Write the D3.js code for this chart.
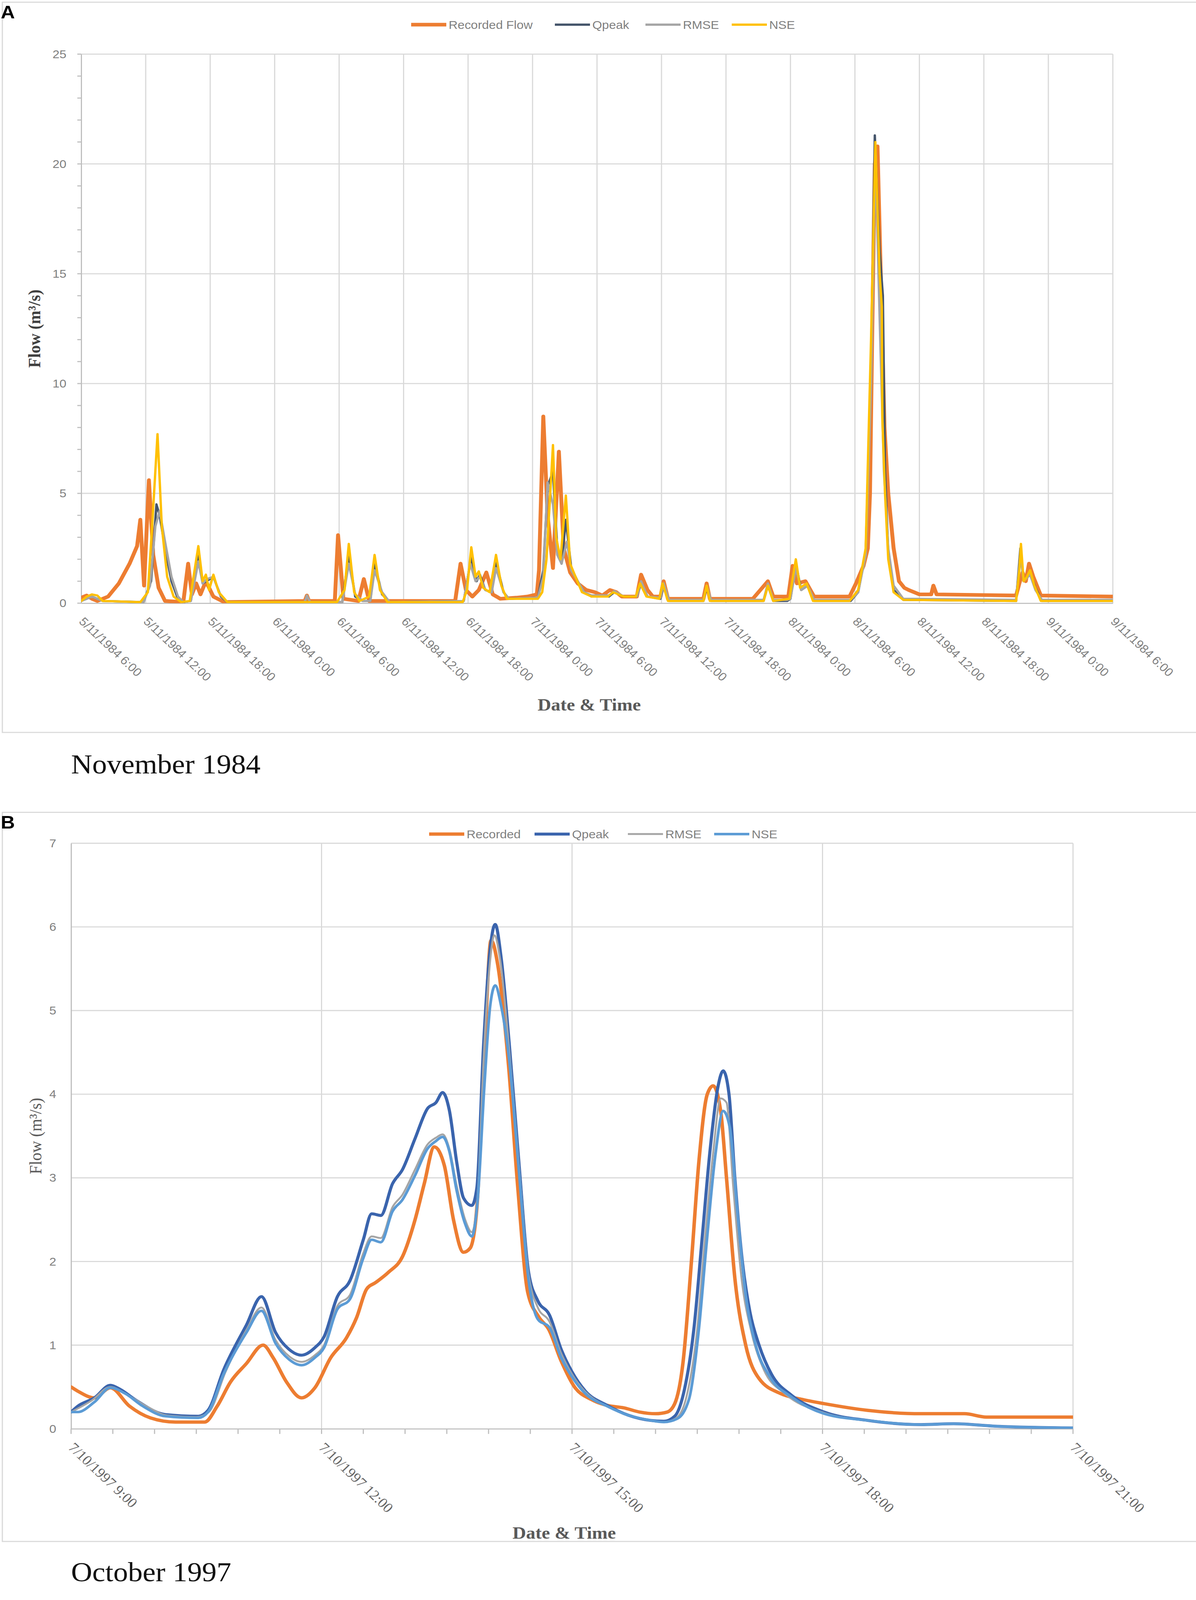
<!DOCTYPE html>
<html>
<head>
<meta charset="utf-8">
<script src="https://cdn.jsdelivr.net/npm/d3@7"></script>
<style>
  html, body { margin: 0; padding: 0; background: #fff; overflow: hidden; }
  svg { display: block; }
  text { font-family: 'Liberation Sans', Arial, sans-serif; }
</style>
</head>
<body>
<div id="canvas"></div>
<script>
/*
 * Data: [hours after the first tick, flow m3/s]
 *
 */
const startA = new Date(1984, 10, 5, 6, 0);   // 5/11/1984 6:00
const startB = new Date(1997, 9, 7, 9, 0);    // 7/10/1997 9:00

const legendA = ['Recorded Flow', 'Qpeak', 'RMSE', 'NSE'];
const legendB = ['Recorded', 'Qpeak', 'RMSE', 'NSE'];

const yTicksA = [0, 5, 10, 15, 20, 25];
const yTicksB = [0, 1, 2, 3, 4, 5, 6, 7];

const recordedA = [[0,0.25],[0.5,0.35],[1,0.2],[1.5,0.1],[2.5,0.3],[3.5,0.9],[4.5,1.8],[5.2,2.6],[5.5,3.8],[5.85,0.8],
  [6.3,5.6],[6.7,2.2],[7.2,0.7],[7.8,0.1],[9.5,0.05],[9.95,1.8],[10.3,0.4],[10.7,0.9],[11.1,0.4],[11.6,1.0],[12.3,0.3],
  [13.3,0.05],[20.8,0.1],[21,0.35],[21.2,0.1],[23.6,0.1],[23.9,3.1],[24.4,0.2],[25.8,0.1],[26.3,1.1],[26.8,0.1],
  [34.8,0.1],[35.3,1.8],[35.8,0.6],[36.4,0.3],[37.0,0.6],[37.7,1.4],[38.3,0.4],[39,0.2],[40.5,0.25],[41.5,0.3],
  [42.4,0.4],[42.6,1.5],[43.0,8.5],[43.4,4.0],[43.9,1.6],[44.45,6.9],[44.9,2.5],[45.5,1.4],[46.2,0.9],[47,0.6],
  [47.8,0.5],[48.5,0.35],[49.2,0.6],[49.8,0.5],[50.3,0.3],[51.7,0.3],[52.1,1.3],[52.7,0.6],[53.2,0.3],[53.9,0.3],
  [54.2,1.0],[54.6,0.2],[57.9,0.2],[58.2,0.9],[58.5,0.2],[62.5,0.2],[63.2,0.6],[63.9,1.0],[64.4,0.3],[65.8,0.3],
  [66.2,1.7],[66.6,0.9],[67.4,1.0],[68.2,0.3],[71.5,0.3],[72.1,0.9],[72.8,1.7],[73.2,2.5],[73.4,5],[73.6,12],
  [73.85,20],[74.1,20.8],[74.4,15],[74.75,8],[75.1,5],[75.6,2.5],[76.1,1.0],[76.6,0.7],[77,0.6],[78,0.4],[79.1,0.4],
  [79.3,0.8],[79.6,0.4],[87,0.35],[87.3,0.9],[87.6,1.4],[87.9,1.0],[88.2,1.8],[88.6,1.2],[89.3,0.35],[96,0.3]];

const qpeakA = [[0,0.1],[1,0.3],[2,0.1],[5.8,0.05],[6.5,1.0],[7.0,4.5],[7.3,4.0],[7.8,2.5],[8.4,1.0],[9.0,0.2],
  [9.5,0.05],[10.2,0.1],[10.9,2.2],[11.3,0.9],[12.3,1.2],[13,0.3],[13.6,0.05],[24.3,0.05],[24.9,2.2],[25.5,0.3],
  [26.2,0.1],[26.9,0.1],[27.3,1.8],[28,0.4],[28.7,0.05],[35.6,0.1],[36.3,2.1],[36.8,1.0],[37.1,1.3],[37.6,0.6],
  [38.2,0.5],[38.6,1.9],[39.3,0.5],[39.8,0.2],[42.5,0.25],[43.0,1.5],[43.4,5.3],[43.9,6.0],[44.3,2.5],[44.7,1.8],
  [45.1,3.8],[45.6,1.6],[46.2,1.0],[46.8,0.5],[47.5,0.3],[49.1,0.3],[49.6,0.5],[50.5,0.3],[51.7,0.3],[52.1,0.9],
  [52.7,0.3],[53.9,0.2],[54.2,0.8],[54.7,0.1],[57.9,0.1],[58.2,0.7],[58.6,0.1],[63.5,0.1],[63.9,0.8],[64.4,0.1],
  [65.7,0.1],[66,0.2],[66.5,1.8],[67,0.6],[67.6,0.8],[68.2,0.1],[71.6,0.1],[72.3,0.5],[73,2.3],[73.5,11],
  [73.85,21.3],[74.3,16],[74.6,14],[74.8,6],[75.1,2.3],[75.6,0.6],[76.5,0.15],[87,0.1],[87.4,2.5],[87.7,1.0],
  [88.3,1.4],[88.8,0.7],[89.4,0.1],[96,0.1]];

const rmseA = [[0,0.1],[1,0.3],[2,0.1],[5.8,0.05],[6.4,0.8],[6.9,3.5],[7.3,4.2],[7.8,2.8],[8.4,1.2],[9.0,0.3],
  [9.5,0.05],[10.2,0.1],[10.9,1.9],[11.3,0.9],[11.7,1.1],[12.3,1.2],[12.9,0.4],[13.6,0.05],[20.8,0.05],[21.0,0.35],
  [21.3,0.05],[24.3,0.05],[24.9,1.8],[25.5,0.4],[26.2,0.1],[26.9,0.1],[27.3,1.5],[28,0.5],[28.7,0.05],[35.6,0.1],
  [36.2,1.8],[36.7,1.0],[37.1,1.2],[37.6,0.6],[38.2,0.5],[38.6,1.6],[39.3,0.5],[39.8,0.2],[42.5,0.25],[43.0,1.2],
  [43.4,5.5],[43.9,4.5],[44.3,2.2],[44.7,1.8],[45.2,2.8],[45.6,1.5],[46.2,1.0],[46.8,0.5],[47.5,0.35],[49.1,0.35],
  [49.6,0.55],[50.5,0.3],[51.7,0.3],[52.1,1.0],[52.7,0.3],[53.9,0.25],[54.2,0.9],[54.7,0.15],[57.9,0.15],[58.2,0.8],
  [58.6,0.15],[63.5,0.15],[63.9,0.9],[64.4,0.15],[65.7,0.15],[66,0.2],[66.5,1.6],[67,0.6],[67.6,0.8],[68.2,0.15],
  [71.6,0.15],[72.3,0.5],[73,2.2],[73.5,10],[73.9,20.5],[74.3,13],[74.7,6],[75.1,2.5],[75.6,0.8],[76.5,0.2],
  [87,0.15],[87.4,2.2],[87.7,1.0],[88.3,1.3],[88.8,0.6],[89.4,0.15],[96,0.15]];

const nseA = [[0,0.1],[0.5,0.3],[1,0.4],[1.5,0.35],[2,0.1],[5.5,0.05],[6.2,0.5],[6.6,3.5],[7.1,7.7],[7.5,3.5],
  [8.0,1.2],[8.6,0.3],[9.3,0.05],[10.1,0.1],[10.9,2.6],[11.3,1.0],[11.6,1.3],[11.9,0.6],[12.3,1.3],[12.8,0.5],
  [13.6,0.05],[23.8,0.05],[24.5,0.6],[24.9,2.7],[25.4,0.5],[25.9,0.1],[26.8,0.3],[27.3,2.2],[27.8,0.6],[28.5,0.05],
  [35.5,0.05],[35.9,0.6],[36.3,2.55],[36.7,1.2],[37.0,1.45],[37.4,0.7],[38.0,0.5],[38.6,2.2],[39.1,0.8],[39.6,0.2],
  [42.5,0.2],[42.9,0.5],[43.3,2],[43.9,7.2],[44.2,3],[44.6,2.0],[45.1,4.9],[45.5,1.8],[46,1.2],[46.6,0.5],
  [47.5,0.3],[49.0,0.3],[49.5,0.5],[50.5,0.3],[51.6,0.3],[52,0.9],[52.6,0.3],[53.8,0.2],[54.1,0.9],[54.6,0.1],
  [57.9,0.1],[58.2,0.8],[58.5,0.1],[63.5,0.1],[63.9,0.8],[64.4,0.1],[65.9,0.2],[66.5,2.0],[66.9,0.7],[67.5,0.9],
  [68.1,0.1],[71.5,0.1],[72.3,0.6],[73,2.5],[73.5,12],[73.9,21.0],[74.3,15],[74.5,13.5],[74.55,8.4],[74.8,5],
  [75.1,2],[75.6,0.5],[76.5,0.15],[87,0.1],[87.3,1.5],[87.45,2.7],[87.7,1.0],[88.0,1.2],[88.3,1.5],[88.7,0.8],
  [89.3,0.1],[96,0.1]];

const recordedB = [[0,0.5],[0.08,0.45],[0.28,0.37],[0.47,0.49],[0.7,0.27],[0.95,0.13],[1.25,0.08],[1.6,0.08],
  [1.75,0.27],[1.91,0.56],[2.1,0.78],[2.3,1.0],[2.42,0.85],[2.58,0.56],[2.76,0.37],[2.92,0.49],[3.11,0.85],
  [3.3,1.09],[3.42,1.33],[3.54,1.67],[3.65,1.75],[3.8,1.87],[3.97,2.06],[4.12,2.5],[4.23,2.93],[4.35,3.37],
  [4.47,3.15],[4.58,2.5],[4.7,2.11],[4.78,2.16],[4.86,2.64],[4.95,4.48],[5.03,5.84],[5.11,5.55],[5.24,4.34],
  [5.35,2.89],[5.47,1.63],[5.6,1.34],[5.72,1.19],[5.87,0.81],[6.03,0.5],[6.23,0.35],[6.42,0.28],[6.62,0.25],
  [6.81,0.2],[7.0,0.18],[7.14,0.2],[7.23,0.3],[7.33,0.8],[7.43,2.0],[7.52,3.2],[7.62,4.0],[7.69,4.1],[7.78,3.8],
  [7.85,3.0],[7.95,1.8],[8.08,1.0],[8.24,0.6],[8.5,0.42],[8.76,0.35],[9.02,0.3],[9.54,0.22],[10.18,0.18],
  [10.7,0.18],[10.96,0.14],[12,0.14]];

const qpeakB = [[0,0.2],[0.08,0.27],[0.28,0.37],[0.47,0.52],[0.59,0.47],[0.78,0.34],[1.13,0.17],[1.52,0.15],
  [1.64,0.22],[1.83,0.71],[2.1,1.24],[2.28,1.58],[2.45,1.15],[2.61,0.95],[2.76,0.88],[2.92,0.97],[3.03,1.1],
  [3.19,1.58],[3.34,1.77],[3.5,2.26],[3.6,2.57],[3.71,2.55],[3.85,2.93],[3.97,3.1],[4.12,3.47],[4.27,3.83],
  [4.37,3.9],[4.45,4.02],[4.53,3.81],[4.62,3.18],[4.7,2.76],[4.8,2.67],[4.86,2.88],[4.94,4.58],[5.01,5.64],
  [5.08,6.03],[5.15,5.64],[5.25,4.58],[5.36,3.23],[5.48,1.87],[5.59,1.53],[5.73,1.36],[5.87,0.95],[6.0,0.68],
  [6.16,0.45],[6.42,0.28],[6.68,0.16],[6.94,0.1],[7.1,0.09],[7.23,0.15],[7.33,0.4],[7.46,1.2],[7.56,2.3],
  [7.65,3.3],[7.75,4.1],[7.81,4.28],[7.88,4.0],[7.95,3.0],[8.04,2.0],[8.13,1.4],[8.24,1.0],[8.39,0.65],
  [8.63,0.4],[9.02,0.2],[9.54,0.1],[10.18,0.05],[10.57,0.06],[11.09,0.03],[12,0.01]];

const rmseB = [[0,0.2],[0.25,0.34],[0.47,0.5],[0.65,0.42],[0.9,0.27],[1.15,0.16],[1.5,0.14],[1.65,0.2],
  [1.85,0.68],[2.1,1.18],[2.28,1.45],[2.45,1.06],[2.62,0.86],[2.76,0.8],[2.92,0.88],[3.03,1.0],[3.19,1.47],
  [3.34,1.6],[3.5,2.1],[3.6,2.3],[3.71,2.28],[3.85,2.65],[3.97,2.8],[4.12,3.1],[4.27,3.4],[4.37,3.48],
  [4.45,3.52],[4.53,3.35],[4.62,2.9],[4.72,2.5],[4.8,2.35],[4.87,2.8],[4.94,4.4],[5.01,5.5],[5.07,5.9],
  [5.14,5.6],[5.25,4.5],[5.36,3.2],[5.48,1.85],[5.59,1.45],[5.73,1.28],[5.87,0.9],[6.0,0.65],[6.16,0.44],
  [6.42,0.27],[6.68,0.16],[6.94,0.1],[7.1,0.08],[7.25,0.13],[7.37,0.38],[7.5,1.2],[7.59,2.25],[7.69,3.3],
  [7.78,3.95],[7.85,3.9],[7.93,2.9],[8.03,1.8],[8.15,1.15],[8.3,0.7],[8.55,0.42],[9.02,0.19],[9.54,0.1],
  [10.18,0.05],[10.57,0.06],[11.09,0.03],[12,0.01]];

const nseB = [[0,0.2],[0.08,0.2],[0.28,0.32],[0.47,0.49],[0.65,0.42],[0.86,0.27],[1.13,0.15],[1.52,0.13],
  [1.64,0.2],[1.83,0.66],[2.1,1.15],[2.28,1.41],[2.45,1.02],[2.61,0.83],[2.76,0.76],[2.92,0.85],[3.03,0.97],
  [3.19,1.43],[3.34,1.55],[3.5,2.04],[3.6,2.26],[3.71,2.23],[3.85,2.6],[3.97,2.74],[4.12,3.03],[4.27,3.35],
  [4.37,3.44],[4.45,3.49],[4.53,3.32],[4.62,2.84],[4.72,2.45],[4.8,2.3],[4.87,2.74],[4.95,4.1],[5.02,5.06],
  [5.08,5.3],[5.15,5.06],[5.25,4.39],[5.36,3.13],[5.48,1.78],[5.59,1.31],[5.73,1.21],[5.87,0.85],[6.0,0.62],
  [6.16,0.42],[6.42,0.27],[6.68,0.16],[6.94,0.1],[7.1,0.08],[7.26,0.12],[7.4,0.35],[7.52,1.2],[7.61,2.2],
  [7.72,3.3],[7.81,3.8],[7.89,3.6],[7.98,2.6],[8.08,1.6],[8.2,1.0],[8.37,0.62],[8.63,0.38],[9.02,0.18],
  [9.54,0.1],[10.18,0.05],[10.57,0.06],[11.09,0.03],[12,0.01]];

/*
 * Panel settings (layout and style only)
 *
 */
const panels = [
  {
    tag: 'A', caption: 'November 1984', start: startA, hours: 96, tickEvery: 6,
    yMax: 25, yTicks: yTicksA, yMinor: 1, xMinor: null,
    frame: { top: 6, bottom: 1989 },
    plot: { left: 208, right: 2850, top: 147, bottom: 1638 },
    series: [recordedA, qpeakA, rmseA, nseA], names: legendA,
    colors: ['#ED7D31', '#44546A', '#A5A5A5', '#FFC000'],
    widths: [10, 6, 6, 6],
    curve: d3.curveLinear,
    legendX: [1053, 1421, 1653, 1874], legendY: 67,
    tickFont: "'Liberation Sans', Arial, sans-serif", tickSize: 32, tickColor: '#7F7F7F',
    yTitleWeight: 'bold', yTitleColor: '#404040', yTitleX: 103,
    tagY: 50, captionY: 2100
  },
  {
    tag: 'B', caption: 'October 1997', start: startB, hours: 12, tickEvery: 3,
    yMax: 7, yTicks: yTicksB, yMinor: null, xMinor: 0.5,
    frame: { top: 2206, bottom: 4186 },
    plot: { left: 182, right: 2748, top: 2290, bottom: 3880 },
    series: [recordedB, qpeakB, rmseB, nseB], names: legendB,
    colors: ['#ED7D31', '#3A64AD', '#A5A5A5', '#5B9BD5'],
    widths: [9, 8, 5, 7],
    curve: d3.curveMonotoneX,
    legendX: [1099, 1369, 1608, 1829], legendY: 2265,
    tickFont: "'Liberation Serif', 'Times New Roman', serif", tickSize: 38, tickColor: '#666666',
    yTitleWeight: 'normal', yTitleColor: '#595959', yTitleX: 106,
    tagY: 2250, captionY: 4294
  }
];

// drawing is done in a fixed 3063 x 4345 space, fitted to the window
const svgWidth = 3063, svgHeight = 4345;

const svg = d3.select('#canvas').append('svg')
  .attr('width', window.innerWidth)
  .attr('height', window.innerHeight)
  .attr('viewBox', `0 0 ${svgWidth} ${svgHeight}`)
  .attr('preserveAspectRatio', 'none')
  .style('background', '#fff');

const fmt = d3.timeFormat('%-d/%-m/%Y %-H:%M');

panels.forEach(drawPanel);

function drawPanel(p, idx) {
  const toDate = (h) => new Date(p.start.getTime() + h * 3600e3);

  // chart frame
  svg.append('rect')
    .attr('x', 6).attr('y', p.frame.top)
    .attr('width', svgWidth + 10).attr('height', p.frame.bottom - p.frame.top)
    .attr('fill', 'none').attr('stroke', '#D9D9D9').attr('stroke-width', 3);

  const x = d3.scaleTime()
    .domain([p.start, toDate(p.hours)])
    .range([p.plot.left, p.plot.right]);

  const y = d3.scaleLinear()
    .domain([0, p.yMax])
    .range([p.plot.bottom, p.plot.top]);

  const g = svg.append('g');

  // gridlines
  const xTicks = x.ticks(d3.timeHour.every(p.tickEvery));
  g.append('g').selectAll('line')
    .data(p.yTicks.filter(v => v > 0))
    .enter().append('line')
    .attr('x1', p.plot.left).attr('x2', p.plot.right)
    .attr('y1', d => y(d)).attr('y2', d => y(d))
    .attr('stroke', '#D9D9D9').attr('stroke-width', 3);

  g.append('g').selectAll('line')
    .data(xTicks.filter(t => +t > +p.start))
    .enter().append('line')
    .attr('x1', d => x(d)).attr('x2', d => x(d))
    .attr('y1', p.plot.top).attr('y2', p.plot.bottom)
    .attr('stroke', '#D9D9D9').attr('stroke-width', 3);

  // axes
  const leftAxis = g.append('g')
    .attr('transform', `translate(${p.plot.left},0)`)
    .call(d3.axisLeft(y).tickValues(p.yTicks).tickFormat(d3.format('d')).tickSize(0).tickPadding(38));
  leftAxis.select('.domain').attr('stroke', '#BFBFBF').attr('stroke-width', 3);
  leftAxis.selectAll('text')
    .style('font-family', "'Liberation Sans', Arial, sans-serif")
    .style('font-size', '32px')
    .attr('fill', '#7F7F7F');

  if (p.yMinor) {
    g.append('g').selectAll('line')
      .data(d3.range(0, p.yMax + 0.001, p.yMinor))
      .enter().append('line')
      .attr('x1', p.plot.left - 10).attr('x2', p.plot.left)
      .attr('y1', d => y(d)).attr('y2', d => y(d))
      .attr('stroke', '#BFBFBF').attr('stroke-width', 3);
  }

  const bottomAxis = g.append('g')
    .attr('transform', `translate(0,${p.plot.bottom})`)
    .call(d3.axisBottom(x).ticks(d3.timeHour.every(p.tickEvery)).tickFormat(fmt).tickSize(0));
  bottomAxis.select('.domain').attr('stroke', '#BFBFBF').attr('stroke-width', 3);
  bottomAxis.selectAll('text')
    .attr('x', 0).attr('y', 0).attr('dy', '0.35em')
    .attr('transform', 'translate(0,44) rotate(45)')
    .style('text-anchor', 'start')
    .style('font-family', p.tickFont)
    .style('font-size', p.tickSize + 'px')
    .attr('fill', p.tickColor);

  if (p.xMinor) {
    g.append('g').selectAll('line')
      .data(d3.range(0, p.hours + 0.001, p.xMinor).map(toDate))
      .enter().append('line')
      .attr('x1', d => x(d)).attr('x2', d => x(d))
      .attr('y1', p.plot.bottom).attr('y2', p.plot.bottom + 14)
      .attr('stroke', '#BFBFBF').attr('stroke-width', 3);
  }

  // data lines
  const clipId = `clip${idx}`;
  svg.append('clipPath').attr('id', clipId)
    .append('rect')
    .attr('x', p.plot.left).attr('y', p.plot.top - 20)
    .attr('width', p.plot.right - p.plot.left).attr('height', p.plot.bottom - p.plot.top + 20);

  const line = d3.line()
    .x(d => x(toDate(d[0])))
    .y(d => y(d[1]))
    .curve(p.curve);

  const dataContainer = g.append('g').attr('clip-path', `url(#${clipId})`);
  dataContainer.selectAll('path')
    .data(p.series)
    .enter().append('path')
    .attr('d', line)
    .attr('fill', 'none')
    .attr('stroke', (d, i) => p.colors[i])
    .attr('stroke-width', (d, i) => p.widths[i])
    .attr('stroke-linejoin', 'round')
    .attr('stroke-linecap', 'round');

  // legend
  const legend = g.append('g');
  p.names.forEach((name, i) => {
    legend.append('line')
      .attr('x1', p.legendX[i]).attr('x2', p.legendX[i] + 90)
      .attr('y1', p.legendY).attr('y2', p.legendY)
      .attr('stroke', p.colors[i]).attr('stroke-width', p.widths[i]);
    legend.append('text')
      .attr('x', p.legendX[i] + 96).attr('y', p.legendY)
      .attr('dy', '0.35em')
      .style('font-size', '32px')
      .attr('fill', '#7F7F7F')
      .text(name);
  });

  // axis titles
  const midY = (p.plot.top + p.plot.bottom) / 2;
  g.append('text')
    .attr('transform', `translate(${p.yTitleX},${midY}) rotate(-90)`)
    .attr('text-anchor', 'middle')
    .style('font-family', "'Liberation Serif', 'Times New Roman', serif")
    .style('font-size', '44px')
    .style('font-weight', p.yTitleWeight)
    .attr('fill', p.yTitleColor)
    .text('Flow (m³/s)');

  g.append('text')
    .attr('x', (p.plot.left + p.plot.right) / 2 - 20)
    .attr('y', p.plot.bottom + (idx === 0 ? 292 : 298))
    .attr('text-anchor', 'middle')
    .style('font-family', "'Liberation Serif', 'Times New Roman', serif")
    .style('font-size', '48px')
    .style('font-weight', 'bold')
    .attr('fill', '#595959')
    .text('Date & Time');

  // panel tag and caption
  svg.append('text')
    .attr('x', 2).attr('y', p.tagY)
    .style('font-size', '50px')
    .style('font-weight', 'bold')
    .attr('fill', '#000')
    .text(p.tag);

  svg.append('text')
    .attr('x', 182).attr('y', p.captionY)
    .style('font-family', "'Liberation Serif', 'Times New Roman', serif")
    .style('font-size', '75px')
    .attr('fill', '#111')
    .text(p.caption);
}
</script>
</body>
</html>
